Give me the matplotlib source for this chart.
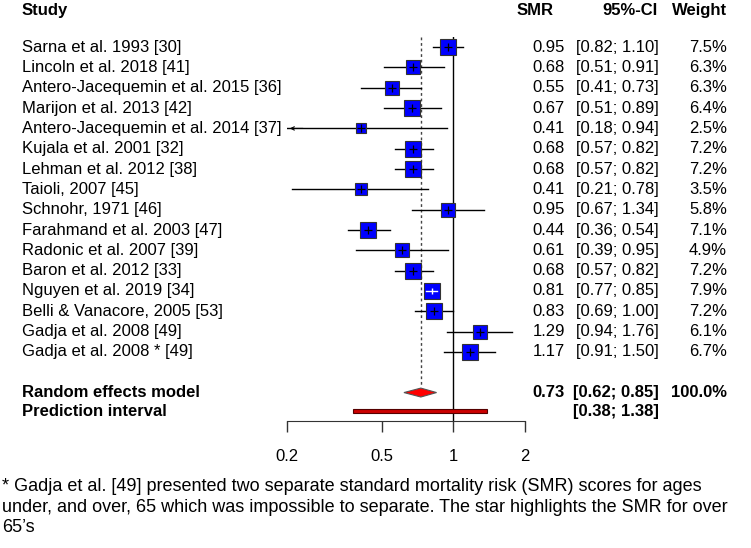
import numpy as np
import matplotlib
matplotlib.use('Agg')
import matplotlib.pyplot as plt
from matplotlib.transforms import blended_transform_factory

plt.rcParams['font.family'] = ['Liberation Sans', 'DejaVu Sans']

studies = ['Sarna et al. 1993 [30]', 'Lincoln et al. 2018 [41]',
           'Antero-Jacequemin et al. 2015 [36]', 'Marijon et al. 2013 [42]',
           'Antero-Jacequemin et al. 2014 [37]', 'Kujala et al. 2001 [32]',
           'Lehman et al. 2012 [38]', 'Taioli, 2007 [45]', 'Schnohr, 1971 [46]',
           'Farahmand et al. 2003 [47]', 'Radonic et al. 2007 [39]',
           'Baron et al. 2012 [33]', 'Nguyen et al. 2019 [34]',
           'Belli & Vanacore, 2005 [53]', 'Gadja et al. 2008 [49]',
           'Gadja et al. 2008 * [49]']
smr = [0.95, 0.68, 0.55, 0.67, 0.41, 0.68, 0.68, 0.41, 0.95, 0.44, 0.61, 0.68, 0.81, 0.83, 1.29, 1.17]
lower = [0.82, 0.51, 0.41, 0.51, 0.18, 0.57, 0.57, 0.21, 0.67, 0.36, 0.39, 0.57, 0.77, 0.69, 0.94, 0.91]
upper = [1.10, 0.91, 0.73, 0.89, 0.94, 0.82, 0.82, 0.78, 1.34, 0.54, 0.95, 0.82, 0.85, 1.00, 1.76, 1.50]
weight = [7.5, 6.3, 6.3, 6.4, 2.5, 7.2, 7.2, 3.5, 5.8, 7.1, 4.9, 7.2, 7.9, 7.2, 6.1, 6.7]

re_est, re_lo, re_hi = 0.73, 0.62, 0.85
pi_lo, pi_hi = 0.38, 1.38
xticks = [0.2, 0.5, 1, 2]

footnote = ("* Gadja et al. [49] presented two separate standard mortality risk (SMR) scores for ages\n"
            "under, and over, 65 which was impossible to separate. The star highlights the SMR for over\n"
            "65\u2019s")

W, H = 751, 548
fig = plt.figure(figsize=(W / 100, H / 100), dpi=100)
ax = fig.add_axes([287 / W, 1 - 421 / H, 238 / W, 384 / H])
ax.set_xscale('log')
ax.set_xlim(0.2, 2)
n = len(studies)
y_re = n + 1
y_pi = n + 1.93
ax.set_ylim(18.4, -0.5)

for s in ['top', 'right', 'left']:
    ax.spines[s].set_visible(False)
ax.spines['bottom'].set_bounds(0.2, 2)
ax.set_yticks([])
ax.set_xticks(xticks)
ax.set_xticklabels(['0.2', '0.5', '1', '2'])
ax.xaxis.set_minor_locator(matplotlib.ticker.NullLocator())
ax.tick_params(axis='x', direction='out', length=8, width=1, pad=12, labelsize=12, color='#333333')
ax.spines['bottom'].set_color('#333333')

# reference lines
ax.axvline(1, color='black', lw=1, zorder=1)
ax.vlines(re_est, -0.5, y_re - 0.35, colors='#444444', linestyles=(0, (2, 2)), lw=1, zorder=1)

for i in range(n):
    lo = max(lower[i], 0.2)
    ax.plot([lo, upper[i]], [i, i], color='black', lw=1, zorder=2)
    if lower[i] < 0.2:
        ax.annotate('', xy=(0.2, i), xytext=(0.24, i),
                    arrowprops=dict(arrowstyle='->', lw=0.8, color='black', mutation_scale=6))
    side = 4.3 * np.sqrt(weight[i])
    ax.plot(smr[i], i, marker='s', ms=side, mfc='#0000ff', mec='#333333', mew=0.8, zorder=3)
    if i == 12:
        ax.plot([lower[i], upper[i]], [i, i], color='white', lw=1, zorder=4)
        ax.plot(smr[i], i, marker='|', ms=5, color='white', mew=1, zorder=4)
    else:
        ax.plot(smr[i], i, marker='+', ms=6, color='black', mew=0.9, zorder=4)

# summary diamond and prediction interval
ax.fill([re_lo, re_est, re_hi, re_est], [y_re, y_re - 0.22, y_re, y_re + 0.22],
        facecolor='red', edgecolor='#555555', lw=0.8, zorder=3)
ax.fill([pi_lo, pi_hi, pi_hi, pi_lo], [y_pi - 0.1, y_pi - 0.1, y_pi + 0.1, y_pi + 0.1],
        facecolor='#cc0000', edgecolor='#550000', lw=0.8, zorder=3)

tr = blended_transform_factory(fig.transFigure, ax.transData)
fs = 12
y_head = -1.82
kw = dict(transform=tr, va='center', fontsize=fs, clip_on=False)
ax.text(22 / W, y_head, 'Study', fontweight='bold', ha='left', **kw)
ax.text(554 / W, y_head, 'SMR', fontweight='bold', ha='right', **kw)
ax.text(658 / W, y_head, '95%-CI', fontweight='bold', ha='right', **kw)
ax.text(727 / W, y_head, 'Weight', fontweight='bold', ha='right', **kw)

for i in range(n):
    ax.text(22 / W, i, studies[i], ha='left', **kw)
    ax.text(565 / W, i, '%.2f' % smr[i], ha='right', **kw)
    ax.text(659 / W, i, '[%.2f; %.2f]' % (lower[i], upper[i]), ha='right', **kw)
    ax.text(727 / W, i, '%.1f%%' % weight[i], ha='right', **kw)

ax.text(22 / W, y_re, 'Random effects model', fontweight='bold', ha='left', **kw)
ax.text(565 / W, y_re, '%.2f' % re_est, fontweight='bold', ha='right', **kw)
ax.text(659 / W, y_re, '[%.2f; %.2f]' % (re_lo, re_hi), fontweight='bold', ha='right', **kw)
ax.text(727 / W, y_re, '100.0%', fontweight='bold', ha='right', **kw)
ax.text(22 / W, y_pi, 'Prediction interval', fontweight='bold', ha='left', **kw)
ax.text(659 / W, y_pi, '[%.2f; %.2f]' % (pi_lo, pi_hi), fontweight='bold', ha='right', **kw)

fig.text(2 / W, 1 - 478 / H, footnote, ha='left', va='top', fontsize=13,
         linespacing=1.27)

fig.savefig('out.png', dpi=100)
